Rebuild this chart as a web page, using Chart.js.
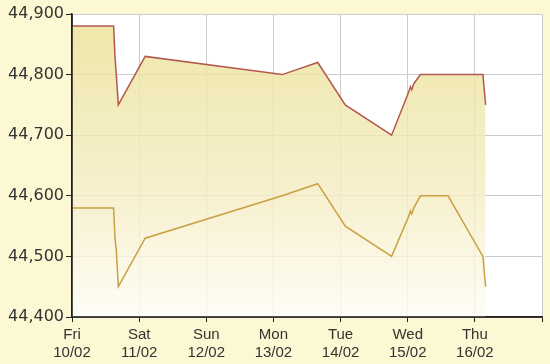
<!DOCTYPE html>
<html>
<head>
<meta charset="utf-8">
<script src="https://cdn.jsdelivr.net/npm/chart.js@4.4.1/dist/chart.umd.min.js"></script>
<style>
  html, body { margin: 0; padding: 0; background: #fbf8d3; }
  canvas { display: block; }
</style>
</head>
<body>
<canvas id="goldChart" width="550" height="364"></canvas>
<script>
// days counted from Fri 10/02 00:00
const times = [0, 0.62, 0.64, 0.66, 0.69, 1.09, 3.13, 3.66, 4.07, 4.76, 5.01, 5.04, 5.06, 5.09, 5.19, 5.60, 6.12, 6.16];
const sellPrices = [44880, 44880, 44830, 44800, 44750, 44830, 44800, 44820, 44750, 44700, 44770, 44780, 44775, 44785, 44800, 44800, 44800, 44750];
const buyPrices = [44580, 44580, 44530, 44510, 44450, 44530, 44600, 44620, 44550, 44500, 44565, 44575, 44570, 44580, 44600, 44600, 44500, 44450];

const dayLabels = ['Fri', 'Sat', 'Sun', 'Mon', 'Tue', 'Wed', 'Thu', ''];
const dateLabels = ['10/02', '11/02', '12/02', '13/02', '14/02', '15/02', '16/02', ''];

const yMin = 44400, yMax = 44900, yStep = 100;

function toPoints(ys) {
    return times.map((t, i) => ({ x: t, y: ys[i] }));
}

// white plot area, then the black left/bottom axis lines on top of the fill
const plotFrame = {
    id: 'plotFrame',
    beforeDraw(chart) {
        const { ctx, chartArea: a } = chart;
        ctx.save();
        ctx.fillStyle = '#ffffff';
        ctx.fillRect(a.left, a.top, a.right - a.left, a.bottom - a.top);
        ctx.restore();
    },
    afterDatasetsDraw(chart) {
        const { ctx, chartArea: a } = chart;
        ctx.save();
        ctx.strokeStyle = '#222';
        ctx.lineWidth = 1.5;
        ctx.beginPath();
        ctx.moveTo(a.left, a.top);
        ctx.lineTo(a.left, a.bottom);
        ctx.lineTo(a.right, a.bottom);
        ctx.stroke();
        ctx.restore();
    }
};

const ctx = document.getElementById('goldChart').getContext('2d');

new Chart(ctx, {
    type: 'line',
    data: {
        datasets: [{
            label: 'Bán',
            data: toPoints(sellPrices),
            borderColor: '#b4584e',
            borderWidth: 1.5,
            pointRadius: 0,
            tension: 0,
            order: 2,
            fill: 'start',
            backgroundColor: (c) => {
                const a = c.chart.chartArea;
                if (!a) return 'rgba(240,232,170,0.8)';
                const g = c.chart.ctx.createLinearGradient(0, a.top, 0, a.bottom);
                g.addColorStop(0, 'rgba(234,224,146,0.8)');
                g.addColorStop(0.6, 'rgba(245,237,195,0.8)');
                g.addColorStop(1, 'rgba(254,253,244,0.8)');
                return g;
            }
        }, {
            label: 'Mua',
            data: toPoints(buyPrices),
            borderColor: '#c9a043',
            borderWidth: 1.5,
            pointRadius: 0,
            tension: 0,
            order: 1,
            fill: false
        }]
    },
    options: {
        responsive: false,
        animation: false,
        layout: { padding: { top: 14, right: 8, left: 0, bottom: 0 } },
        plugins: {
            legend: { display: false },
            tooltip: { enabled: false }
        },
        scales: {
            x: {
                type: 'linear',
                min: 0,
                max: 7,
                afterFit: (s) => { s.height = 47; },
                afterBuildTicks: (s) => {
                    s.ticks = dayLabels.map((d, i) => ({ value: i }));
                },
                ticks: {
                    stepSize: 1,
                    maxRotation: 0,
                    autoSkip: false,
                    padding: 4,
                    color: '#333',
                    font: { family: 'Liberation Sans', size: 15 },
                    callback: (v) => [dayLabels[v], dateLabels[v]]
                },
                grid: { color: '#cccccc', lineWidth: 1, tickLength: 5, tickColor: '#222' },
                border: { color: '#222', width: 1.5 }
            },
            y: {
                min: yMin,
                max: yMax,
                afterFit: (s) => { s.width = 72; },
                ticks: {
                    stepSize: yStep,
                    padding: 2,
                    color: '#333',
                    font: { family: 'DejaVu Sans', size: 16 },
                    callback: (v) => v.toLocaleString('en-US')
                },
                grid: { color: '#cccccc', lineWidth: 1, tickLength: 6, tickColor: '#222' },
                border: { color: '#222', width: 1.5 }
            }
        }
    },
    plugins: [plotFrame]
});
</script>
</body>
</html>
